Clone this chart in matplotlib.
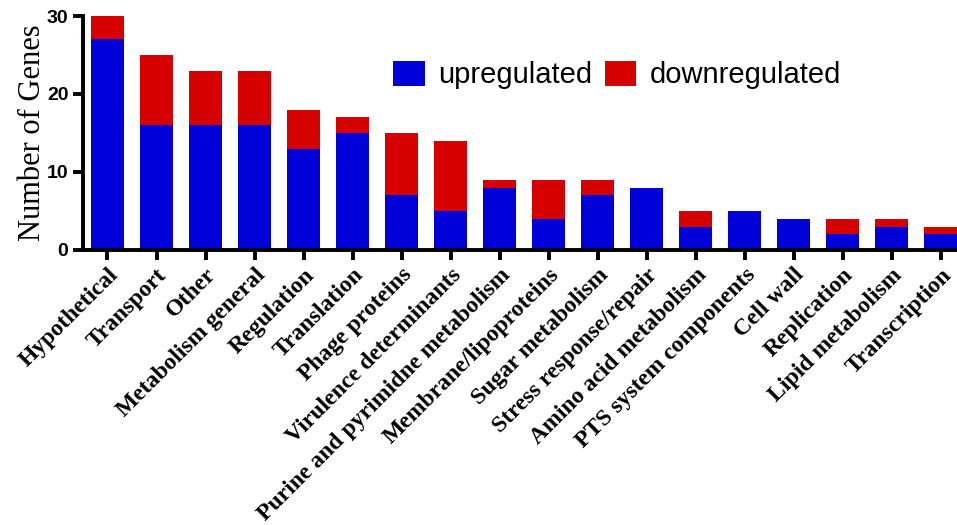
import matplotlib.pyplot as plt
import numpy as np

categories = ['Hypothetical', 'Transport', 'Other', 'Metabolism general',
              'Regulation', 'Translation', 'Phage proteins',
              'Virulence determinants', 'Purine and pyrimidne metabolism',
              'Membrane/lipoproteins', 'Sugar metabolism',
              'Stress response/repair', 'Amino acid metabolism',
              'PTS system components', 'Cell wall', 'Replication',
              'Lipid metabolism', 'Transcription']
upregulated = [27, 16, 16, 16, 13, 15, 7, 5, 8, 4, 7, 8, 3, 5, 4, 2, 3, 2]
downregulated = [3, 9, 7, 7, 5, 2, 8, 9, 1, 5, 2, 0, 2, 0, 0, 2, 1, 1]
y_ticks = [0, 10, 20, 30]

BLUE = '#0000D8'
RED = '#D60000'


def main():
    fig = plt.figure(figsize=(9.57, 5.25), dpi=100)
    ax = fig.add_axes([0.0867, 0.524, 0.922, 0.4455])

    x = np.arange(len(categories))
    up = ax.bar(x, upregulated, width=0.67, color=BLUE, label='upregulated')
    down = ax.bar(x, downregulated, width=0.67, bottom=upregulated,
                  color=RED, label='downregulated')

    ax.set_xlim(-0.5, len(categories) - 0.5)
    ax.set_ylim(0, 30)

    # Axis styling: thick left/bottom spines, outward ticks
    for side in ['top', 'right']:
        ax.spines[side].set_visible(False)
    for side in ['left', 'bottom']:
        ax.spines[side].set_linewidth(2.8)
    ax.tick_params(axis='both', direction='out', length=7, width=2.8)

    ax.set_yticks(y_ticks)
    ax.set_yticklabels([str(v) for v in y_ticks], fontsize=14,
                       fontweight='bold', family='Liberation Sans')
    ax.set_xticks(x)
    ax.set_xticklabels(categories, rotation=45, ha='right',
                       rotation_mode='anchor', fontsize=17,
                       fontweight='bold', family='Liberation Serif')

    ax.set_ylabel('Number of Genes', fontsize=22, family='Liberation Serif',
                  labelpad=0)

    fig.legend(handles=[up, down], loc='center',
               bbox_to_anchor=(0.645, 0.857), ncol=2, frameon=False,
               prop={'family': 'Liberation Sans', 'size': 21},
               handlelength=1.07, handleheight=0.97,
               handletextpad=0.48, columnspacing=0.41)

    fig.savefig('out.png', dpi=100)


main()
